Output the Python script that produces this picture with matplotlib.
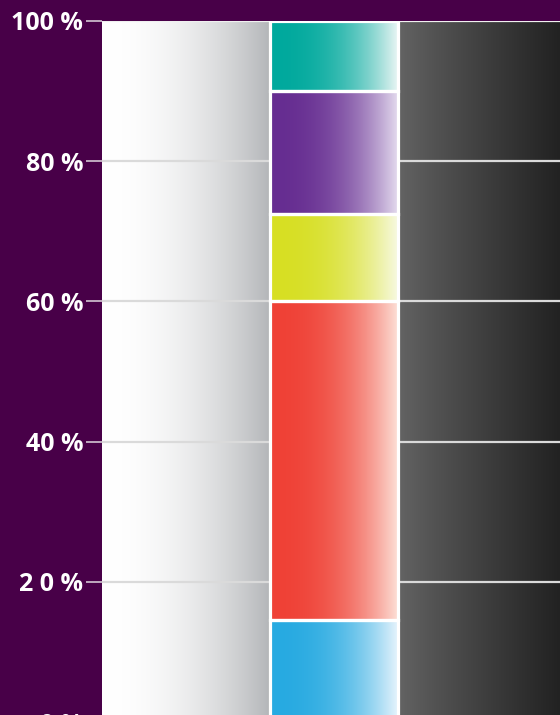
import numpy as np
import matplotlib.pyplot as plt
from matplotlib.colors import to_rgb

# stacked composition, bottom to top (percent)
segments = [14.5, 45.5, 12.5, 17.5, 10.0]
seg_colors = ['#27aae1', '#ef4136', '#d7df23', '#662d91', '#00a99d']
seg_light = ['#eaf5fd', '#fde3da', '#f8fae6', '#e6def0', '#eef7f6']
yticks = [0, 20, 40, 60, 80, 100]
ytick_labels = ['0 %', '2 0 %', '40 %', '60 %', '80 %', '100 %']

bg = '#480048'
plt.rcParams['font.family'] = ['Open Sans', 'DejaVu Sans']

fig = plt.figure(figsize=(5.6, 7.15), dpi=100)
fig.patch.set_facecolor(bg)
ax = fig.add_axes([102 / 560, -7 / 715, 458 / 560, 701 / 715])
ax.set_xlim(0, 458)
ax.set_ylim(0, 100)
ax.set_facecolor(bg)
for s in ax.spines.values():
    s.set_visible(False)


def hgrad(c0, c1, power, n=256):
    t = np.linspace(0, 1, n) ** power
    a, b = np.array(to_rgb(c0)), np.array(to_rgb(c1))
    return (a[None, :] + (b - a)[None, :] * t[:, None])[None, :, :]


# side panels
bar_left, bar_right = 167.5, 296
ax.imshow(hgrad('#ffffff', '#b4b6b9', 2.0), extent=[0, bar_left, 0, 100],
          aspect='auto', interpolation='bicubic', zorder=1)
ax.imshow(hgrad('#646464', '#222222', 0.9), extent=[bar_right, 458, 0, 100],
          aspect='auto', interpolation='bicubic', zorder=1)

# grid
for y in yticks:
    ax.axhline(y, color='#f0f0f0' if y == 100 else '#dadada', lw=1.6, zorder=2)

# stacked bar with gradient fills
bottom = 0
xc = (bar_left + bar_right) / 2
w = bar_right - bar_left
for v, c0, c1 in zip(segments, seg_colors, seg_light):
    patch = ax.bar(xc, v, width=w, bottom=bottom, facecolor='none',
                   edgecolor='white', linewidth=2.3, zorder=4)[0]
    im = ax.imshow(hgrad(c0, c1, 2.4), extent=[bar_left, bar_right, bottom, bottom + v],
                   aspect='auto', interpolation='bicubic', zorder=3)
    im.set_clip_path(patch)
    bottom += v

ax.set_xlim(0, 458)
ax.set_ylim(0, 100)
ax.set_xticks([])
ax.set_yticks(yticks)
ax.set_yticklabels(ytick_labels)
ax.tick_params(axis='y', length=11.5, width=1.3, color='#c8b6c8', pad=2,
               labelcolor='white', labelsize=18)
for lab in ax.get_yticklabels():
    lab.set_fontweight('bold')

fig.savefig('out.png', dpi=100, facecolor=bg)
